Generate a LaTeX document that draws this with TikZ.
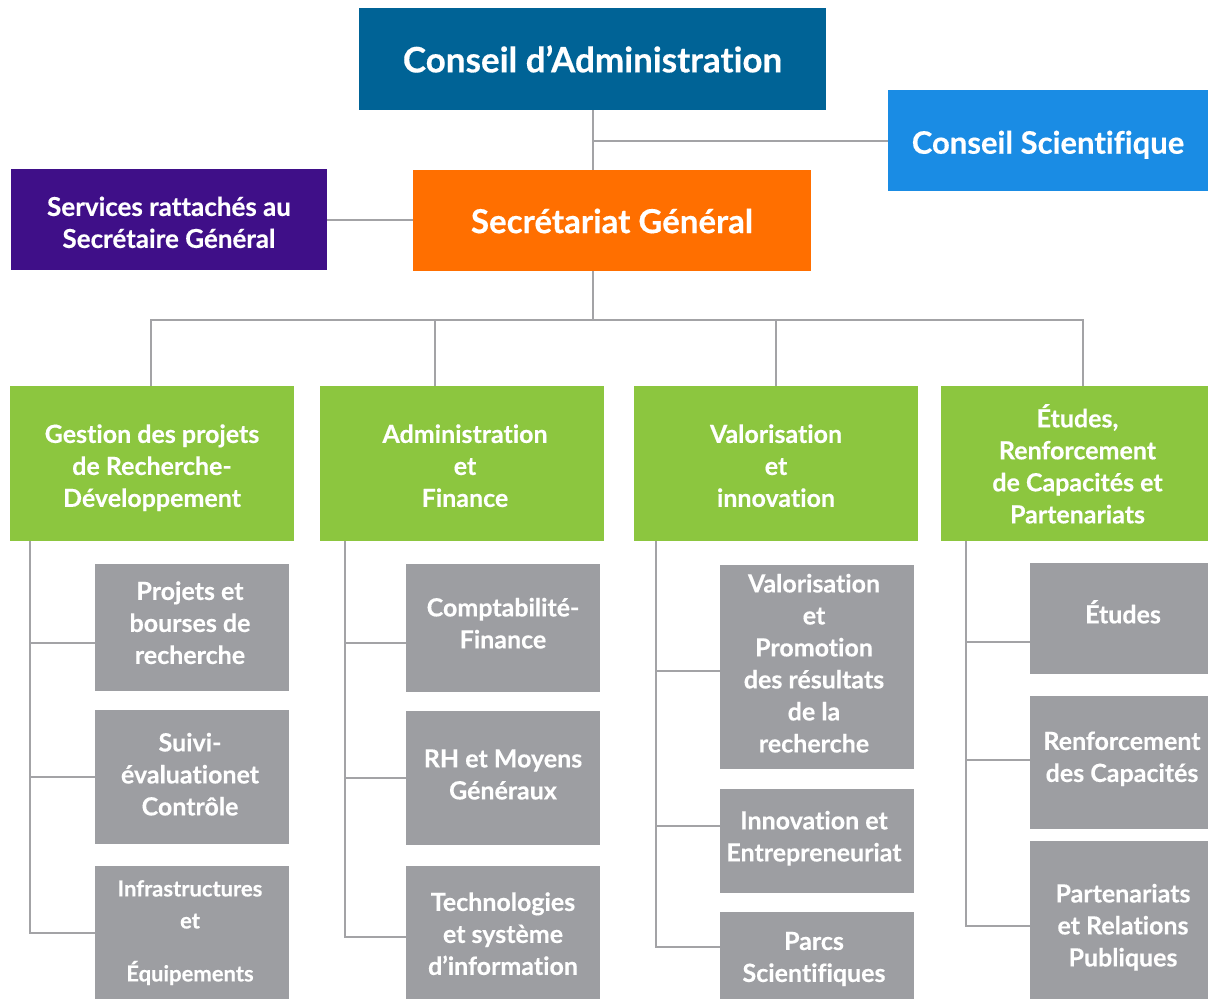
\documentclass[tikz,border=0pt]{standalone}
\usepackage{fontspec}
\setmainfont{Lato}[Ligatures=NoCommon, BoldFeatures={FakeBold=0.4}]
\definecolor{cCA}{RGB}{0,99,150}
\definecolor{cCS}{RGB}{26,140,228}
\definecolor{cSG}{RGB}{255,111,0}
\definecolor{cSRV}{RGB}{63,15,136}
\definecolor{cGRN}{RGB}{140,198,63}
\definecolor{cGRY}{RGB}{157,158,162}
\definecolor{cLINE}{RGB}{163,163,166}
% shifted multi-line text: #1 = horizontal shift (x2), #2 = vertical raise, #3 = lines
\newcommand{\mvtx}[3]{\hspace*{#1}\raisebox{#2}[\height][\depth]{\begin{tabular}{@{}c@{}}#3\end{tabular}}}
\tikzset{
  box/.style={inner sep=0pt, outer sep=0pt, text=white, align=center},
  grn/.style={box, fill=cGRN, minimum height=155pt, font=\bfseries\fontsize{25}{32}\selectfont},
  gry/.style={box, fill=cGRY, minimum width=194pt, font=\bfseries\fontsize{25}{32}\selectfont},
  conn/.style={draw=cLINE, line width=2pt},
}
\begin{document}
\begin{tikzpicture}[x=1pt,y=-1pt]
\useasboundingbox (0,0) rectangle (1208,999);
% top level
\node[box, fill=cCA, minimum width=467pt, minimum height=102pt, font=\bfseries\fontsize{35}{40}\selectfont] (ca) at (592.5,59) {Conseil d’Administration};
\node[box, fill=cCS, minimum width=320pt, minimum height=101pt, font=\bfseries\fontsize{31}{36}\selectfont] (cs) at (1048,140.5) {\mvtx{0pt}{-6pt}{Conseil Scientifique}};
\node[box, fill=cSG, minimum width=398pt, minimum height=101pt, font=\bfseries\fontsize{33}{38}\selectfont] (sg) at (612,220.5) {\mvtx{0pt}{-5pt}{Secrétariat Général}};
\node[box, fill=cSRV, minimum width=316pt, minimum height=101pt, font=\bfseries\fontsize{26}{32}\selectfont] (srv) at (169,219.5) {\mvtx{0pt}{-6pt}{Services rattachés au\\Secrétaire Général}};
% green
\node[grn, minimum width=284pt] (g1) at (152,463.5) {\mvtx{0pt}{-5pt}{Gestion des projets\\de Recherche-\\Développement}};
\node[grn, minimum width=284pt] (g2) at (462,463.5) {\mvtx{6pt}{-5pt}{Administration\\et\\Finance}};
\node[grn, minimum width=284pt] (g3) at (776,463.5) {\mvtx{0pt}{-5pt}{Valorisation\\et\\innovation}};
\node[grn, minimum width=267pt] (g4) at (1074.5,463.5) {\mvtx{6pt}{-5pt}{Études,\\Renforcement\\de Capacités et\\Partenariats}};
% gray col 1
\node[gry, minimum height=127pt] (p11) at (192,627.5) {\mvtx{-4pt}{2pt}{Projets et\\bourses de\\recherche}};
\node[gry, minimum height=134pt] (p12) at (192,777) {\mvtx{-4pt}{0pt}{Suivi-\\évaluationet\\Contrôle}};
\node[gry, minimum height=133pt, font=\bfseries\fontsize{22}{32}\selectfont] (p13) at (192,932.5) {\mvtx{-4pt}{0pt}{Infrastructures\\et\\[21pt]Équipements}};
% gray col 2
\node[gry, minimum height=128pt] (p21) at (503,628) {\mvtx{0pt}{2pt}{Comptabilité-\\Finance}};
\node[gry, minimum height=134pt] (p22) at (503,778) {\mvtx{0pt}{1pt}{RH et Moyens\\Généraux}};
\node[gry, minimum height=133pt] (p23) at (503,932.5) {\mvtx{0pt}{-4pt}{Technologies\\et système\\d’information}};
% gray col 3
\node[gry, minimum height=204pt] (p31) at (817,667) {\mvtx{-6pt}{1pt}{Valorisation\\et\\Promotion\\des résultats\\de la\\recherche}};
\node[gry, minimum height=104pt] (p32) at (817,841) {\mvtx{-6pt}{2pt}{Innovation et\\Entrepreneuriat}};
\node[gry, minimum height=87pt] (p33) at (817,955.5) {\mvtx{-6pt}{-4pt}{Parcs\\Scientifiques}};
% gray col 4
\node[gry, minimum width=178pt, minimum height=111pt] (p41) at (1119,618.5) {\mvtx{8pt}{2pt}{Études}};
\node[gry, minimum width=178pt, minimum height=133pt] (p42) at (1119,762.5) {\mvtx{6pt}{3pt}{Renforcement\\des Capacités}};
\node[gry, minimum width=178pt, minimum height=158pt] (p43) at (1119,920) {\mvtx{8pt}{-8pt}{Partenariats\\et Relations\\Publiques}};
% connectors top
\draw[conn] (ca.south) -- (ca.south |- sg.north);
\draw[conn] (ca.south |- cs.west) -- (cs.west);
\draw[conn] (srv.east) -- (srv.east -| sg.west);
\coordinate (bus) at (592.5,320);
\draw[conn] (ca.south |- sg.south) -- (bus);
\draw[conn] ([xshift=-1pt]g1.north) |- (bus);
\draw[conn] ([xshift=-27pt]g2.north) |- (bus);
\draw[conn] (g3.north) |- (bus);
\draw[conn] ([xshift=8.5pt]g4.north) |- (bus);
% column spines
\coordinate (s1) at ([xshift=20pt]g1.south west);
\coordinate (s2) at ([xshift=25pt]g2.south west);
\coordinate (s3) at ([xshift=22pt]g3.south west);
\coordinate (s4) at ([xshift=25pt]g4.south west);
\draw[conn] (s1) |- ([yshift=-15.5pt]p11.west);
\draw[conn] (s1) |- (p12.west);
\draw[conn] (s1) |- (p13.west);
\draw[conn] (s2) |- ([yshift=-15pt]p21.west);
\draw[conn] (s2) |- (p22.west);
\draw[conn] (s2) |- ([yshift=-4.5pt]p23.west);
\draw[conn] (s3) |- ([yshift=-4pt]p31.west);
\draw[conn] (s3) |- ([yshift=15pt]p32.west);
\draw[conn] (s3) |- ([yshift=8.5pt]p33.west);
\draw[conn] (s4) |- ([yshift=-23.5pt]p41.west);
\draw[conn] (s4) |- ([yshift=2.5pt]p42.west);
\draw[conn] (s4) |- ([yshift=-6pt]p43.west);
\end{tikzpicture}
\end{document}
